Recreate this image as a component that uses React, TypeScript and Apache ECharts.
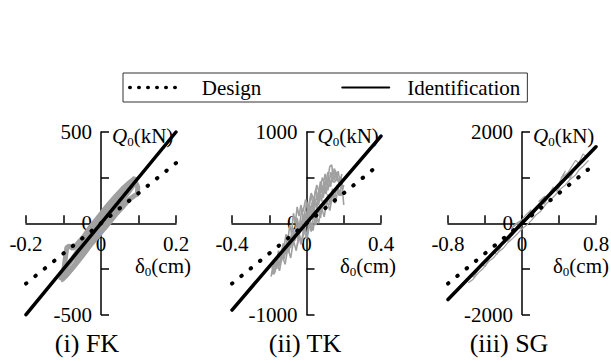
import React, { useEffect, useRef } from "react";
import * as echarts from "echarts";

// ---------- data ----------
const panelNames = ["(i) FK", "(ii) TK", "(iii) SG"];
const xMaxs = [0.2, 0.4, 0.8];
const yMaxs = [500, 1000, 2000];
const xIntervals = [0.1, 0.2, 0.4];
const yIntervals = [250, 500, 1000];
const legendNames = ["Design", "Identification"];

const designFK = [[-0.2, -330], [0.2, 330]];
const identFK = [[-0.2, -500], [0.2, 500]];
const designTK = [[-0.4, -660], [0.4, 660]];
const identTK = [[-0.4, -950], [0.4, 955]];
const designSG = [[-0.8, -1320], [0.8, 1320]];
const identSG = [[-0.8, -1670], [0.8, 1675]];

const loopsFK = [
  [[-0.108,-312],[-0.1,-270],[-0.09,-232],[-0.078,-200],[-0.065,-160],[-0.05,-118],[-0.035,-72],[-0.02,-30],[-0.005,12],[0.01,52],[0.025,95],[0.04,135],[0.055,170],[0.07,205],[0.082,232],[0.09,248],[0.092,238],[0.085,205],[0.075,175],[0.06,135],[0.045,92],[0.03,50],[0.015,8],[0,-35],[-0.015,-80],[-0.03,-120],[-0.045,-160],[-0.06,-200],[-0.075,-240],[-0.09,-278],[-0.102,-305],[-0.108,-312]],
  [[-0.07,-205],[-0.058,-175],[-0.045,-128],[-0.03,-88],[-0.015,-40],[0,0],[0.015,45],[0.03,88],[0.045,128],[0.058,165],[0.062,175],[0.055,140],[0.04,100],[0.025,58],[0.01,15],[-0.005,-28],[-0.02,-72],[-0.035,-115],[-0.05,-158],[-0.065,-198],[-0.07,-205]],
  [[-0.104,-295],[-0.098,-240],[-0.094,-175],[-0.091,-132],[-0.084,-124],[-0.075,-138],[-0.062,-110],[-0.045,-70],[-0.03,-25],[-0.012,20],[0.005,65],[0.022,108],[0.04,150],[0.058,190],[0.075,222],[0.088,240],[0.098,200],[0.097,160],[0.088,150],[0.075,130],[0.06,95],[0.042,55],[0.025,12],[0.008,-30],[-0.01,-75],[-0.028,-118],[-0.045,-165],[-0.062,-210],[-0.08,-255],[-0.095,-290],[-0.104,-295]],
];

const loopsTK = [
  [[-0.19,-585],[-0.18,-470],[-0.17,-540],[-0.155,-380],[-0.145,-470],[-0.13,-300],[-0.12,-390],[-0.105,-210],[-0.095,-320],[-0.08,-140],[-0.07,-240],[-0.055,-60],[-0.045,-170],[-0.03,30],[-0.02,-80],[-0.005,110],[0.005,0],[0.02,190],[0.03,80],[0.045,270],[0.055,160],[0.07,350],[0.08,240],[0.095,430],[0.105,320],[0.12,510],[0.13,400],[0.14,600],[0.15,470],[0.16,560],[0.175,420],[0.185,510],[0.195,380]],
  [[0.2,420],[0.185,300],[0.17,380],[0.155,220],[0.14,310],[0.125,140],[0.11,250],[0.095,70],[0.08,180],[0.065,0],[0.05,110],[0.035,-80],[0.02,30],[0.005,-150],[-0.01,-40],[-0.025,-220],[-0.04,-110],[-0.055,-300],[-0.07,-190],[-0.085,-380],[-0.1,-270],[-0.115,-450],[-0.13,-350],[-0.145,-520],[-0.16,-420],[-0.175,-560],[-0.185,-480]],
  [[-0.16,-420],[-0.15,-300],[-0.14,-380],[-0.125,-220],[-0.115,-300],[-0.1,-130],[-0.09,-230],[-0.075,-40],[-0.065,-150],[-0.05,60],[-0.04,-50],[-0.025,150],[-0.015,40],[0,230],[0.01,120],[0.025,320],[0.035,200],[0.05,380],[0.06,280],[0.075,460],[0.085,360],[0.1,540],[0.11,430],[0.125,620],[0.135,640],[0.145,520],[0.155,580],[0.165,460]],
  [[-0.18,-510],[-0.165,-430],[-0.15,-460],[-0.135,-360],[-0.12,-330],[-0.105,-280],[-0.09,-200],[-0.075,-190],[-0.06,-100],[-0.045,-90],[-0.03,-20],[-0.015,30],[0,50],[0.015,130],[0.03,140],[0.045,220],[0.06,230],[0.075,300],[0.09,320],[0.105,390],[0.12,400],[0.135,470],[0.15,450],[0.165,500],[0.18,430],[0.19,470]],
  [[-0.12,-250],[-0.11,-120],[-0.1,-190],[-0.09,-20],[-0.08,-110],[-0.07,110],[-0.06,0],[-0.05,180],[-0.04,80],[-0.03,200],[-0.02,120],[-0.005,260],[0.01,180],[0.025,330],[0.04,260],[0.055,420],[0.07,330],[0.085,500],[0.1,420],[0.115,560]],
  [[-0.185,-560],[-0.175,-430],[-0.16,-500],[-0.15,-340],[-0.135,-420],[-0.12,-260],[-0.11,-340],[-0.095,-170],[-0.085,-270],[-0.07,-90],[-0.06,-190],[-0.045,0],[-0.035,-110],[-0.02,80],[-0.01,-30],[0.005,150],[0.015,40],[0.03,230],[0.04,120],[0.055,310],[0.065,200],[0.08,390],[0.09,280],[0.105,470],[0.115,360],[0.13,560],[0.14,450],[0.15,600],[0.16,500],[0.17,570],[0.18,450],[0.19,540]],
  [[-0.05,-250],[-0.04,-140],[-0.03,-230],[-0.015,-60],[0,-170],[0.015,20],[0.025,-90],[0.04,100],[0.05,-20],[0.065,170],[0.075,60],[0.09,250],[0.1,140],[0.115,320],[0.125,200],[0.14,380],[0.15,260],[0.165,420],[0.175,300],[0.19,440],[0.2,200]],
];

const loopsSG = [
  [[-0.6,-1280],[-0.55,-1150],[-0.52,-1180],[-0.47,-1000],[-0.42,-900],[-0.4,-950],[-0.35,-760],[-0.3,-640],[-0.27,-680],[-0.22,-480],[-0.17,-360],[-0.15,-400],[-0.1,-220],[-0.05,-90],[-0.02,-120],[0.03,60],[0.08,180],[0.11,150],[0.16,330],[0.21,450],[0.24,420],[0.3,620],[0.35,740],[0.38,700],[0.43,900],[0.48,1020],[0.52,990],[0.57,1200],[0.62,1350],[0.66,1520],[0.7,1450]],
  [[0.72,1380],[0.66,1250],[0.62,1180],[0.58,1060],[0.52,960],[0.47,840],[0.42,760],[0.36,620],[0.31,520],[0.26,420],[0.2,260],[0.15,180],[0.1,60],[0.05,-40],[0,-120],[-0.05,-230],[-0.1,-330],[-0.15,-420],[-0.2,-540],[-0.26,-640],[-0.31,-760],[-0.36,-840],[-0.42,-990],[-0.47,-1080],[-0.53,-1230],[-0.58,-1300]],
  [[-0.25,-520],[-0.2,-380],[-0.15,-300],[-0.2,-450],[-0.1,-250],[-0.05,-60],[0,80],[-0.06,0],[-0.12,-120],[-0.02,40],[0.05,200],[0.1,300],[0.05,120],[0.12,200],[0.2,420],[0.25,600],[0.18,480],[0.26,540],[0.34,800],[0.3,650],[0.4,880],[0.47,1150],[0.42,980],[0.5,1120],[0.58,1380],[0.62,1300]],
];

const designs = [designFK, designTK, designSG];
const idents = [identFK, identTK, identSG];
const loops = [loopsFK, loopsTK, loopsSG];

// ---------- layout ----------
const FONT = "'Liberation Serif', 'Times New Roman', serif";
const GRID_LEFT = [26, 232, 448];
const GRID_WIDTH = [150, 149, 148];
const GRID_TOP = 132;
const GRID_HEIGHT = 182.6;
const CAPTION_X = [87, 305, 509];
const GRAY_WIDTH = [5, 1.6, 1.2];

function fmt(v: number) {
  return String(v);
}

export default function App() {
  const ref = useRef<HTMLDivElement>(null);
  useEffect(() => {
    if (!ref.current) return;
    const chart = echarts.init(ref.current, null, { renderer: "svg" });
    const grid: any[] = [];
    const xAxis: any[] = [];
    const yAxis: any[] = [];
    const series: any[] = [];
    const graphic: any[] = [];
    for (let i = 0; i < 3; i++) {
      grid.push({
        left: GRID_LEFT[i], top: GRID_TOP, width: GRID_WIDTH[i], height: GRID_HEIGHT,
        containLabel: false, outerBoundsMode: "none",
      });
      const xm = xMaxs[i];
      const ym = yMaxs[i];
      xAxis.push({
        type: "value", gridIndex: i, min: -xm, max: xm, interval: xIntervals[i],
        position: "bottom", offset: -GRID_HEIGHT / 2,
        axisLine: { onZero: false, lineStyle: { color: "#000", width: 1.5 } },
        axisTick: { inside: true, length: 8, lineStyle: { color: "#000", width: 1.5 } },
        axisLabel: {
          color: "#000", fontFamily: FONT, fontSize: 21, margin: 10, hideOverlap: false,
          showMinLabel: true, showMaxLabel: true,
          formatter: (v: number) => (Math.abs(v) < 1e-9 || Math.abs(Math.abs(v) - xm) < 1e-9 ? fmt(v) : ""),
        },
        splitLine: { show: false },
      });
      yAxis.push({
        type: "value", gridIndex: i, min: -ym, max: ym, interval: yIntervals[i],
        position: "left", offset: -GRID_WIDTH[i] / 2,
        axisLine: { onZero: false, lineStyle: { color: "#000", width: 1.5 } },
        axisTick: { inside: true, length: 8, lineStyle: { color: "#000", width: 1.5 } },
        axisLabel: {
          color: "#000", fontFamily: FONT, fontSize: 21, margin: 9, hideOverlap: false,
          showMinLabel: true, showMaxLabel: true,
          formatter: (v: number) => (Math.abs(v) < 1e-9 || Math.abs(Math.abs(v) - ym) < 1e-9 ? fmt(v) : ""),
        },
        splitLine: { show: false },
      });
      loops[i].forEach((lp, k) => {
        series.push({
          type: "line", name: "loop" + i + "_" + k, xAxisIndex: i, yAxisIndex: i,
          data: lp, showSymbol: false, symbol: "none", clip: false, z: 1,
          lineStyle: { color: "#a0a0a0", width: GRAY_WIDTH[i] },
        });
      });
      series.push({
        type: "line", name: legendNames[0], xAxisIndex: i, yAxisIndex: i,
        data: designs[i], symbol: "none", showSymbol: false, clip: false, z: 3, color: "#000",
        lineStyle: { color: "#000", width: 4, type: [0.5, 11.5], cap: "round" },
      });
      series.push({
        type: "line", name: legendNames[1], xAxisIndex: i, yAxisIndex: i,
        data: idents[i], symbol: "none", showSymbol: false, clip: false, z: 4, color: "#000",
        lineStyle: { color: "#000", width: 3.5, cap: "round" },
      });
      const axisX = GRID_LEFT[i] + GRID_WIDTH[i] / 2;
      const axisY = GRID_TOP + GRID_HEIGHT / 2;
      const right = GRID_LEFT[i] + GRID_WIDTH[i];
      graphic.push({
        type: "text", x: axisX + 11, y: GRID_TOP + 4,
        style: {
          text: "{q|Q}{s|0}{n|(kN)}", align: "left", verticalAlign: "middle",
          rich: {
            q: { fontFamily: FONT, fontSize: 21, fontStyle: "italic", fill: "#000" },
            s: { fontFamily: FONT, fontSize: 13, fill: "#000", padding: [10, 0, 0, 0] },
            n: { fontFamily: FONT, fontSize: 21, fill: "#000" },
          },
        },
      });
      graphic.push({
        type: "text", x: Math.min(right + 15, 609), y: axisY + 43,
        style: {
          text: "{q|δ}{s|0}{n|(cm)}", align: "right", verticalAlign: "middle",
          rich: {
            q: { fontFamily: FONT, fontSize: 21, fill: "#000" },
            s: { fontFamily: FONT, fontSize: 13, fill: "#000", padding: [10, 0, 0, 0] },
            n: { fontFamily: FONT, fontSize: 21, fill: "#000" },
          },
        },
      });
      graphic.push({
        type: "text", x: CAPTION_X[i], y: 343,
        style: { text: panelNames[i], fontFamily: FONT, fontSize: 26, fill: "#000", align: "center", verticalAlign: "middle" },
      });
    }
    chart.setOption({
      animation: false,
      legend: {
        left: 123, top: 73, itemWidth: 47, itemHeight: 14, itemGap: 80,
        borderColor: "#333", borderWidth: 1, padding: [4, 7, 4, 5],
        textStyle: { fontFamily: FONT, fontSize: 21, color: "#000" },
        itemStyle: { color: "rgba(0,0,0,0)", borderColor: "rgba(0,0,0,0)", borderWidth: 0 },
        lineStyle: { color: "#000" },
        data: [
          { name: legendNames[0], textStyle: { padding: [0, 0, 0, 20] }, lineStyle: { type: [0.5, 8.5], width: 3.5, cap: "round" } },
          { name: legendNames[1], textStyle: { padding: [0, 0, 0, 13] } },
        ],
      },
      grid, xAxis, yAxis, series, graphic,
    });
    return () => chart.dispose();
  }, []);
  return <div ref={ref} style={{ position: "absolute", left: 0, top: 0, width: 611, height: 363 }} />;
}
